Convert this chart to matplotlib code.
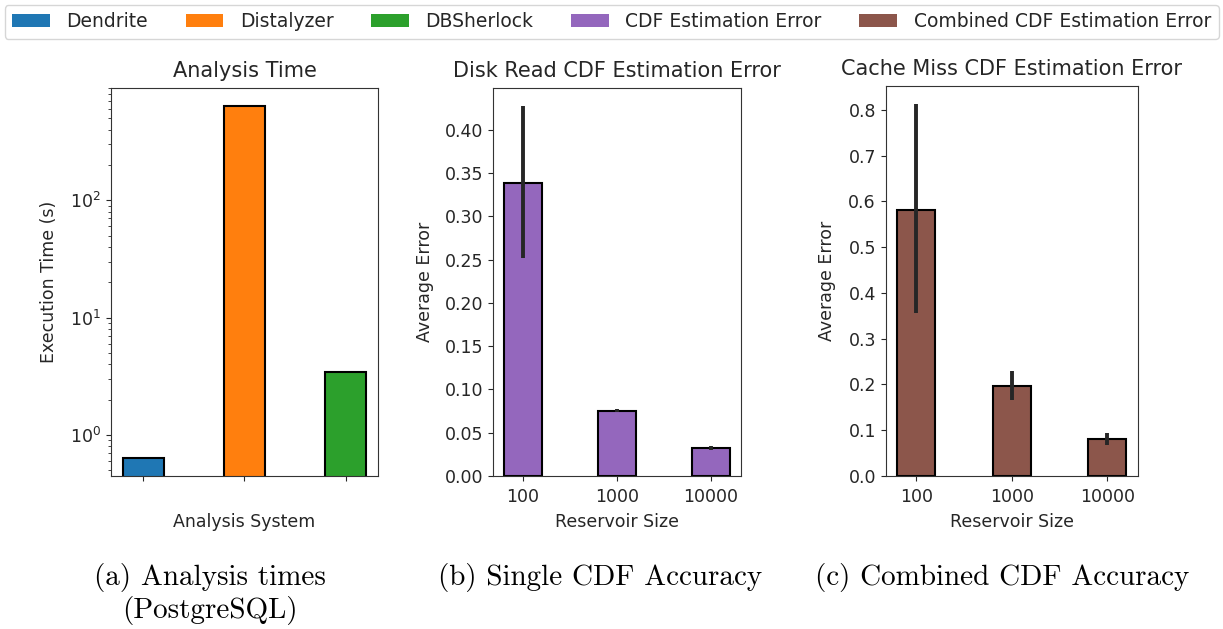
import matplotlib
matplotlib.use("Agg")
import matplotlib.pyplot as plt
from matplotlib.patches import Patch
import numpy as np

# ---- data ----
systems = ["Dendrite", "Distalyzer", "DBSherlock"]
analysis_time = [0.63, 640.0, 3.44]

reservoir_sizes = ["100", "1000", "10000"]
disk_err = [0.338, 0.0751, 0.0324]
disk_err_lo = [0.2524, 0.0738, 0.0302]
disk_err_hi = [0.427, 0.0770, 0.0343]

cache_err = [0.581, 0.1976, 0.0817]
cache_err_lo = [0.356, 0.166, 0.068]
cache_err_hi = [0.812, 0.230, 0.093]

legend_labels = ["Dendrite", "Distalyzer", "DBSherlock",
                 "CDF Estimation Error", "Combined CDF Estimation Error"]
colors = ["#1f77b4", "#ff7f0e", "#2ca02c", "#9467bd", "#8c564b"]

captions = ["(a) Analysis times\n(PostgreSQL)",
            "(b) Single CDF Accuracy",
            "(c) Combined CDF Accuracy"]

# ---- figure ----
W, H = 1223, 629
fig = plt.figure(figsize=(W / 100, H / 100), dpi=100)
txt = "#262626"
plt.rcParams.update({"font.size": 12.5, "text.color": txt,
                     "axes.labelcolor": txt, "xtick.color": txt,
                     "ytick.color": txt, "axes.edgecolor": "#333333"})


def px_axes(left, right, top, bottom):
    return fig.add_axes([left / W, 1 - bottom / H, (right - left) / W, (bottom - top) / H])


err_kw = dict(ecolor="#262626", elinewidth=2.8, capsize=0)
bar_kw = dict(width=0.4, edgecolor="black", linewidth=1.5)

# (a) analysis time, log scale
ax1 = px_axes(111, 378, 88, 476)
x = np.arange(len(systems))
ax1.bar(x, analysis_time, color=colors[:3], **bar_kw)
ax1.set_yscale("log")
ax1.set_xticks(x)
ax1.set_xticklabels([""] * len(x))
ax1.set_title("Analysis Time", fontsize=15, pad=8)
ax1.set_ylabel("Execution Time (s)", labelpad=9)
ax1.set_xlabel("Analysis System")

# (b) disk read CDF error
ax2 = px_axes(493, 741, 88, 476)
x = np.arange(len(reservoir_sizes))
yerr = [np.array(disk_err) - np.array(disk_err_lo), np.array(disk_err_hi) - np.array(disk_err)]
ax2.bar(x, disk_err, color=colors[3], yerr=yerr, error_kw=err_kw, **bar_kw)
ax2.set_xticks(x)
ax2.set_xticklabels(reservoir_sizes)
ax2.set_yticks(np.arange(0, 0.41, 0.05))
ax2.yaxis.set_major_formatter(matplotlib.ticker.FormatStrFormatter("%.2f"))
ax2.set_title("Disk Read CDF Estimation Error", fontsize=15, pad=8)
ax2.set_ylabel("Average Error", labelpad=8)
ax2.set_xlabel("Reservoir Size")

# (c) cache miss combined CDF error
ax3 = px_axes(885.7, 1137.7, 85.7, 476)
yerr = [np.array(cache_err) - np.array(cache_err_lo), np.array(cache_err_hi) - np.array(cache_err)]
ax3.bar(x, cache_err, color=colors[4], yerr=yerr, error_kw=err_kw, **bar_kw)
ax3.set_xticks(x)
ax3.set_xticklabels(reservoir_sizes)
ax3.set_yticks(np.arange(0, 0.81, 0.1))
ax3.yaxis.set_major_formatter(matplotlib.ticker.FormatStrFormatter("%.1f"))
ax3.set_title("Cache Miss CDF Estimation Error", fontsize=15, pad=8)
ax3.set_ylabel("Average Error", labelpad=9)
ax3.set_xlabel("Reservoir Size")

for ax in (ax1, ax2, ax3):
    ax.xaxis.set_label_coords(0.5, -0.095)
    ax.tick_params(labelsize=12.5)
    ax.tick_params(axis="x", pad=5)

# shared legend
handles = [Patch(facecolor=c) for c in colors]
fig.legend(handles, legend_labels, ncol=5, loc="upper center",
           bbox_to_anchor=(0.5, 1 - 1 / H), fontsize=13.5, frameon=True,
           handletextpad=0.9, columnspacing=2.0, borderaxespad=0.2)

# captions, one line at a time
cap_x = [210, 600, 1002]
line_step = 33
for cx, cap in zip(cap_x, captions):
    for i, line in enumerate(cap.split("\n")):
        fig.text(cx / W, 1 - (585 + i * line_step) / H, line, ha="center",
                 va="baseline", fontsize=21, family="cmr10", color="black")

fig.savefig("out.png", dpi=100)
